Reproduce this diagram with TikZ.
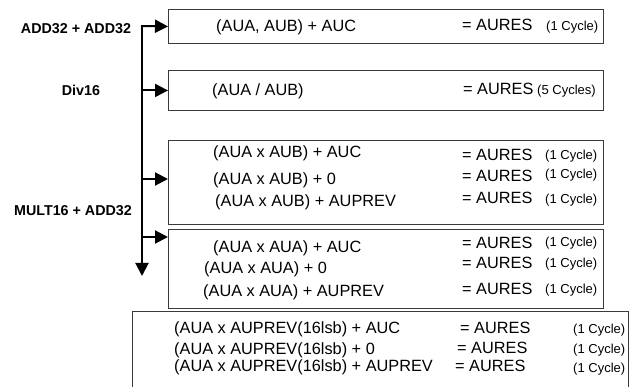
\documentclass[tikz,border=0pt]{standalone}
\usepackage{fontspec}
\setmainfont{Liberation Sans}
\usetikzlibrary{arrows.meta,positioning}
\definecolor{frame}{HTML}{3A3A3A}

\begin{document}
\begin{tikzpicture}[x=1pt,y=-1pt,>={Triangle[length=13pt,width=13pt]}]
\tikzset{opbox/.style={draw=frame,line width=0.9pt,anchor=north west,inner sep=0pt},
  txt/.style={anchor=base west,inner sep=0pt,font=\fontsize{16.3}{18}\selectfont},
  cyc/.style={anchor=base west,inner sep=0pt,font=\fontsize{13}{15}\selectfont},
  unit/.style={font=\bfseries\fontsize{14.3}{16}\selectfont,inner sep=0pt},
  flow/.style={line width=2pt}}
\useasboundingbox (0,0) rectangle (634,387);
\clip (0,0) rectangle (634,387);
\node[opbox,minimum width=435pt,minimum height=34pt] (add) at (168,9) {};
\node[opbox,minimum width=435pt,minimum height=40pt] (div) at (168,70) {};
\node[opbox,minimum width=435pt,minimum height=84pt] (mulab) at (168,140) {};
\node[opbox,minimum width=435pt,minimum height=79pt] (mulaa) at (168,229) {};
\node[opbox,minimum width=496pt,minimum height=95pt] (mulprev) at (132,311) {};
\node[unit] (addlab) at (76,29) {ADD32 + ADD32};
\node[unit] (divlab) at (81,90) {Div16};
\node[unit] (mullab) at (73,211) {MULT16 + ADD32};
\node[txt] (add-l) at (216,32) {(AUA, AUB) + AUC};
\node[txt] (add-r) at (462,31) {= AURES};
\node[cyc] (add-c) at (546,31) {(1 Cycle)};
\node[txt] (div-l) at (212,96) {(AUA / AUB)};
\node[txt] (div-r) at (463,95) {= AURES};
\node[cyc] (div-c) at (537,95) {(5 Cycles)};
\node[txt] (ab1-l) at (213,158) {(AUA x AUB) + AUC};
\node[txt] (ab2-l) at (213,185) {(AUA x AUB) + 0};
\node[txt] (ab3-l) at (215,207) {(AUA x AUB) + AUPREV};
\node[txt] (ab1-r) at (462,161) {= AURES};
\node[txt] (ab2-r) at (462,182) {= AURES};
\node[txt] (ab3-r) at (462,204) {= AURES};
\node[cyc] (ab1-c) at (545,160) {(1 Cycle)};
\node[cyc] (ab2-c) at (545,179) {(1 Cycle)};
\node[cyc] (ab3-c) at (545,204) {(1 Cycle)};
\node[txt] (aa1-l) at (213,252) {(AUA x AUA) + AUC};
\node[txt] (aa2-l) at (204,273) {(AUA x AUA) + 0};
\node[txt] (aa3-l) at (203,296) {(AUA x AUA) + AUPREV};
\node[txt] (aa1-r) at (462,249) {= AURES};
\node[txt] (aa2-r) at (462,269) {= AURES};
\node[txt] (aa3-r) at (462,294) {= AURES};
\node[cyc] (aa1-c) at (545,247) {(1 Cycle)};
\node[cyc] (aa2-c) at (545,268) {(1 Cycle)};
\node[cyc] (aa3-c) at (545,293) {(1 Cycle)};
\node[txt] (pv1-l) at (174,333) {(AUA x AUPREV(16lsb) + AUC};
\node[txt] (pv2-l) at (174,354) {(AUA x AUPREV(16lsb) + 0};
\node[txt] (pv3-l) at (174,371) {(AUA x AUPREV(16lsb) + AUPREV};
\node[txt] (pv1-r) at (460,333) {= AURES};
\node[txt] (pv2-r) at (457,353) {= AURES};
\node[txt] (pv3-r) at (455,371) {= AURES};
\node[cyc] (pv1-c) at (573,333) {(1 Cycle)};
\node[cyc] (pv2-c) at (573,353) {(1 Cycle)};
\node[cyc] (pv3-c) at (573,372) {(1 Cycle)};
\coordinate (top) at (142,26);
\coordinate (bottom) at (142,276);
\draw[flow,->] ([xshift=-1pt]top) -- (add.west);
\draw[flow,->] (top) -- (bottom);
\draw[flow,->] (top |- div.west) -- (div.west);
\draw[flow,->] (top |- 0,179) -- (mulab.west |- 0,179);
\draw[flow,->] (top |- 0,237) -- (mulaa.west |- 0,237);
\end{tikzpicture}
\end{document}
